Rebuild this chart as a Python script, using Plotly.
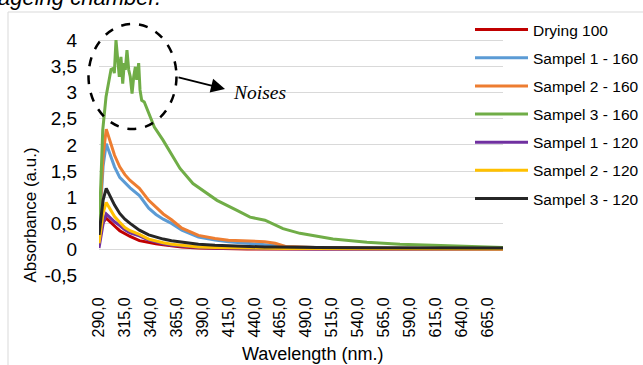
import plotly.graph_objects as go

# ---------------- data ----------------
wavelength = [290, 292, 294, 297, 300, 305, 310, 315, 320, 329, 338, 345, 352,
              360, 370, 386, 402, 415, 433, 450, 460, 470, 500, 550, 600, 680]

drying_100 = [0.25, 0.40, 0.52, 0.60, 0.55, 0.45, 0.36, 0.30, 0.25, 0.17, 0.13, 0.11, 0.09,
              0.07, 0.05, 0.03, 0.02, 0.015, 0.01, 0.01, 0.01, 0.01, 0.01, 0.01, 0.01, 0.01]
sampel1_160 = [0.30, 0.90, 1.60, 2.02, 1.85, 1.58, 1.38, 1.27, 1.18, 1.03, 0.79, 0.67, 0.58,
               0.50, 0.37, 0.24, 0.18, 0.15, 0.12, 0.10, 0.08, 0.06, 0.04, 0.03, 0.02, 0.02]
sampel2_160 = [0.35, 1.00, 1.80, 2.30, 2.10, 1.80, 1.58, 1.43, 1.32, 1.17, 0.94, 0.80, 0.68,
               0.57, 0.41, 0.27, 0.21, 0.18, 0.16, 0.15, 0.12, 0.06, 0.04, 0.03, 0.02, 0.02]
sampel1_120 = [0.03, 0.25, 0.50, 0.68, 0.62, 0.53, 0.46, 0.38, 0.32, 0.26, 0.18, 0.14, 0.11,
               0.08, 0.06, 0.04, 0.03, 0.025, 0.02, 0.02, 0.02, 0.015, 0.01, 0.01, 0.01, 0.01]
sampel2_120 = [0.12, 0.40, 0.70, 0.90, 0.80, 0.63, 0.52, 0.42, 0.36, 0.29, 0.20, 0.16, 0.13,
               0.10, 0.08, 0.05, 0.04, 0.035, 0.03, 0.025, 0.02, 0.02, 0.02, 0.015, 0.01, 0.01]
sampel3_120 = [0.28, 0.60, 0.95, 1.17, 1.05, 0.85, 0.69, 0.58, 0.50, 0.37, 0.28, 0.24, 0.20,
               0.17, 0.14, 0.10, 0.08, 0.07, 0.06, 0.05, 0.05, 0.045, 0.04, 0.035, 0.03, 0.03]

wl_s3_160 = [290, 291.5, 293.6, 296.8, 299.9, 301.6, 303.8, 304.8, 306.4, 308.1,
             309.6, 311.2, 312.9, 314.4, 315.4, 317.0, 318.7, 320.2, 321.9, 323.5,
             325.1, 326.4, 328.3, 329.6, 331.2, 333.7, 335.4, 338.6, 343.4, 351.8,
             368.2, 380.7, 403.9, 423.2, 435.8, 450.2, 467.6, 484.0, 515.9, 548.7,
             580.5, 612.4, 628.8, 680]
sampel3_160 = [0.28, 1.30, 2.28, 2.92, 3.30, 3.44, 3.46, 3.37, 4.00, 3.56,
               3.30, 3.68, 3.17, 3.56, 3.43, 3.81, 3.43, 3.30, 2.98, 3.30,
               3.49, 3.24, 3.56, 3.05, 2.85, 2.82, 2.73, 2.60, 2.34, 2.09,
               1.55, 1.26, 0.94, 0.75, 0.62, 0.56, 0.40, 0.31, 0.20, 0.14,
               0.10, 0.08, 0.07, 0.04]

x_tickvals = [290, 315, 340, 365, 390, 415, 440, 465, 490, 515, 540, 565, 590, 615, 640, 665]
x_ticktext = [f"{v},0" for v in x_tickvals]
y_tickvals = [-0.5, 0, 0.5, 1, 1.5, 2, 2.5, 3, 3.5, 4]
y_ticktext = ["-0,5", "0", "0,5", "1", "1,5", "2", "2,5", "3", "3,5", "4"]

series = [
    ("Drying 100", wavelength, drying_100, "#C00000"),
    ("Sampel 1 - 160", wavelength, sampel1_160, "#5B9BD5"),
    ("Sampel 2 - 160", wavelength, sampel2_160, "#ED7D31"),
    ("Sampel 3 - 160", wl_s3_160, sampel3_160, "#70AD47"),
    ("Sampel 1 - 120", wavelength, sampel1_120, "#7030A0"),
    ("Sampel 2 - 120", wavelength, sampel2_120, "#FFC000"),
    ("Sampel 3 - 120", wavelength, sampel3_120, "#262626"),
]

# ---------------- layout helpers ----------------
W, H = 643, 365
L, R, T, B = 99, 140, 37, 89
PW, PH = W - L - R, H - T - B


def px(x):
    return (x - L) / PW


def py(y):
    return (H - B - y) / PH


FONT = "Liberation Sans, Arial, sans-serif"

fig = go.Figure()
for name, xs, ys, color in series:
    fig.add_trace(go.Scatter(x=xs, y=ys, mode="lines", name=name, legendgroup=name,
                             line=dict(color=color, width=3)))

fig.update_layout(
    width=W, height=H,
    margin=dict(l=L, r=R, t=T, b=B, autoexpand=False),
    paper_bgcolor="white", plot_bgcolor="white",
    font=dict(family=FONT, color="#000000"),
    showlegend=True,
    legend=dict(x=px(470), xanchor="left", y=py(13), yanchor="top",
                font=dict(size=15.5, family=FONT), itemwidth=53,
                tracegroupgap=5, bgcolor="rgba(0,0,0,0)", maxheight=300),
    xaxis=dict(range=[290, 680], tickmode="array", tickvals=x_tickvals, ticktext=x_ticktext,
               tickangle=-90, showgrid=False, zeroline=False, showline=False,
               ticks="outside", ticklen=14, tickcolor="rgba(0,0,0,0)",
               tickfont=dict(size=16, family=FONT), automargin=False),
    yaxis=dict(range=[-0.505, 4.06], tickmode="array", tickvals=y_tickvals, ticktext=y_ticktext,
               showgrid=True, gridcolor="#D9D9D9", gridwidth=1, zeroline=False, showline=False,
               ticks="outside", ticklen=17, tickcolor="rgba(0,0,0,0)",
               tickfont=dict(size=19, family=FONT), automargin=False),
)

shapes = [
    # outer chart frame
    dict(type="rect", xref="paper", yref="paper", x0=px(8), x1=px(660), y0=py(380), y1=py(12),
         line=dict(color="#D9D9D9", width=1), layer="above"),
    # dashed circle marking the noise
    dict(type="circle", xref="paper", yref="paper", x0=px(88.5), x1=px(176.5), y0=py(129), y1=py(24),
         line=dict(color="black", width=2.5, dash="dash")),
]
fig.update_layout(shapes=shapes)

annotations = [
    dict(text="<i>ageing chamber.</i>", x=px(-4), y=py(-3), xref="paper", yref="paper",
         xanchor="left", yanchor="middle", showarrow=False, font=dict(size=22, family=FONT)),
    dict(text="", x=px(225), y=py(89), xref="paper", yref="paper", showarrow=True,
         ax=-48, ay=-12, arrowhead=2, arrowsize=1.4, arrowwidth=2, arrowcolor="black"),
    dict(text="<i>Noises</i>", x=px(231), y=py(92), xref="paper", yref="paper",
         xanchor="left", yanchor="middle", showarrow=False,
         font=dict(size=19.5, family="Liberation Serif, Times New Roman, serif")),
    dict(text="Absorbance (a.u.)", x=px(29.5), y=py(215), xref="paper", yref="paper",
         textangle=-90, xanchor="center", yanchor="middle", showarrow=False,
         font=dict(size=17, family=FONT)),
    dict(text="Wavelength (nm.)", x=px(312), y=py(354), xref="paper", yref="paper",
         xanchor="center", yanchor="middle", showarrow=False, font=dict(size=18, family=FONT)),
]
fig.update_layout(annotations=annotations)

fig.write_html("out.html", config={"displayModeBar": False},
               post_script="document.body.style.margin='0';")
